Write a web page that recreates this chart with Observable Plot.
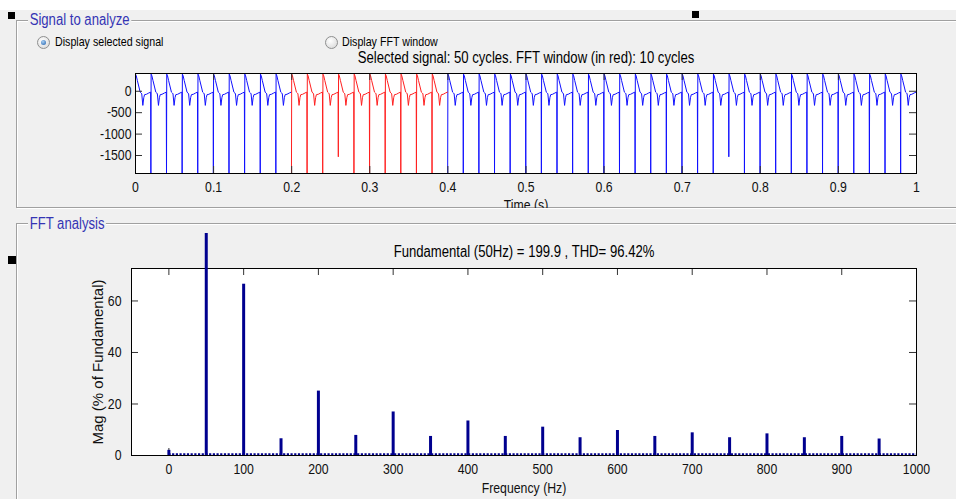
<!DOCTYPE html>
<html><head><meta charset="utf-8">
<script src="https://cdn.jsdelivr.net/npm/d3@7"></script>
<script src="https://cdn.jsdelivr.net/npm/@observablehq/plot@0.6"></script>
<style>
html,body{margin:0;padding:0}
body{width:956px;height:499px;overflow:hidden;position:relative;background:#f0f0f0;font-family:"Liberation Sans",Arial,sans-serif}
.whiteband{position:absolute;left:0;top:0;width:956px;height:10px;background:#fff}
.handle{position:absolute;width:7px;height:7px;background:#000}
.panel{position:absolute;border:1px solid #a0a0a0;box-shadow:inset 1px 1px 0 #fff,1px 1px 0 #fff}
.ptitle{position:absolute;background:#f0f0f0;color:#3434b4;font-size:16px;line-height:16px;padding:0 2px;white-space:nowrap;transform:scaleX(0.82);transform-origin:left center}
.radio{position:absolute;width:11px;height:11px;border-radius:50%;border:1px solid #8e8f8f;background:radial-gradient(circle at 40% 35%,#fff,#d4d4d4)}
.radio.on::after{content:"";position:absolute;left:3px;top:3px;width:5px;height:5px;border-radius:50%;background:radial-gradient(circle at 40% 35%,#a8d0f4,#1a5aa8)}
.rlabel{position:absolute;font-size:13px;line-height:14px;color:#000;white-space:nowrap;transform:scaleX(0.82);transform-origin:left center}
.chart{position:absolute;left:0}
</style></head><body>
<div class="whiteband"></div>
<div class="panel" style="left:16px;top:20px;width:1000px;height:186px"></div>
<div class="panel" style="left:16px;top:223px;width:1000px;height:400px"></div>
<div class="ptitle" id="t1" style="left:28px;top:12px"></div>
<div class="ptitle" id="t2" style="left:28px;top:216px"></div>
<div class="handle" style="left:8px;top:12px"></div>
<div class="handle" style="left:692px;top:11px"></div>
<div class="handle" style="left:8px;top:256px;width:8px;height:8px"></div>
<div class="radio on" style="left:37px;top:36px"></div>
<div class="rlabel" id="r1" style="left:55px;top:35px"></div>
<div class="radio" style="left:325px;top:36px"></div>
<div class="rlabel" id="r2" style="left:342px;top:35px"></div>
<div class="chart" id="top" style="top:44px"></div>
<div class="chart" id="bottom" style="top:233px"></div>
<script>
// ---------- texts ----------
const panelTitles = ["Signal to analyze", "FFT analysis"];
const radioLabels = ["Display selected signal", "Display FFT window"];
const signalSubtitle = "Selected signal: 50 cycles. FFT window (in red): 10 cycles";
const timeLabel = "Time (s)";
const fftTitle = "Fundamental (50Hz) = 199.9 , THD= 96.42%";
const freqLabel = "Frequency (Hz)";
const magLabel = "Mag (% of Fundamental)";

// ---------- top panel: selected signal ----------
const period = 0.02;            // one 50 Hz cycle (s)
const cycleCount = 50;
// one cycle: fraction of the cycle -> value
const cycleFrac  = [0, 0.05, 0.12, 0.22, 0.30, 0.36, 0.40, 0.47, 0.53, 0.58, 0.70, 0.85, 0.97];
const cycleShape = [400, 360, 250, 100, -20, -40, -60, -330, -150, -80, -70, -40, -20];
const spikeFrac = 0.985;
// depth of the commutation spike at the end of each cycle (last cycle: none)
const spikeDepth = [
  -1920, -1920, -1920, -1920, -1920, -1920, -1920, -1920, -1920, -1920,
  -1920, -1920, -1530, -1920, -1920, -1920, -1920, -1920, -1920, -1920,
  -1920, -1920, -1920, -1920, -1920, -1920, -1920, -1920, -1920, -1920,
  -1920, -1920, -1920, -1920, -1920, -1920, -1920, -1530, -1920, -1920,
  -1920, -1920, -1920, -1920, -1920, -1920, -1920, -1920, -1920, null
];
const fftWindowFirstCycle = 10;
const fftWindowCycles = 10;
const timeDomain = [0, 1];
const timeTicks = [0, 0.1, 0.2, 0.3, 0.4, 0.5, 0.6, 0.7, 0.8, 0.9, 1];
const signalDomain = [-1920, 415];
const signalTicks = [0, -500, -1000, -1500];

// ---------- bottom panel: FFT ----------
const harmonicHz  = [0, 50, 100, 150, 200, 250, 300, 350, 400, 450, 500, 550, 600, 650, 700, 750, 800, 850, 900, 950];
const harmonicMag = [2, 100, 66.5, 6.5, 25.0, 7.8, 16.9, 7.4, 13.4, 7.4, 11.0, 6.9, 9.7, 7.4, 8.8, 6.9, 8.4, 6.9, 7.4, 6.4];
const noiseFloorMag = 0.5;
const freqRange = [0, 1000];
const freqDomain = [-50, 1000];
const freqTicks = [0, 100, 200, 300, 400, 500, 600, 700, 800, 900, 1000];
const magDomain = [0, 72.6];
const magTicks = [0, 20, 40, 60];

// ---------- build ----------
document.getElementById("t1").textContent = panelTitles[0];
document.getElementById("t2").textContent = panelTitles[1];
document.getElementById("r1").textContent = radioLabels[0];
document.getElementById("r2").textContent = radioLabels[1];

const signal = [];
for (let k = 0; k < cycleCount; ++k) {
  cycleFrac.forEach((f, i) => signal.push({t: (k + f) * period, v: cycleShape[i], cycle: k}));
  if (spikeDepth[k] != null) signal.push({t: (k + spikeFrac) * period, v: spikeDepth[k], cycle: k + 1});
}
const wEnd = fftWindowFirstCycle + fftWindowCycles;
const preSignal = signal.filter(d => d.cycle < fftWindowFirstCycle);
const windowSignal = signal.filter(d => d.cycle >= fftWindowFirstCycle && d.cycle < wEnd);
const postSignal = signal.filter(d => d.cycle >= wEnd);

const harmonics = harmonicHz.map((hz, i) => ({hz, mag: harmonicMag[i]}));

const tickColor = "#333";
const sigBlue = "#1010ff", sigRed = "#ff2020";

function inwardTicks(xt, yt, fw, fh, len) {
  return [
    Plot.ruleX(xt, {insetTop: fh - len, stroke: tickColor}),
    Plot.ruleX(xt, {insetBottom: fh - len, stroke: tickColor}),
    Plot.ruleY(yt, {insetRight: fw - len, stroke: tickColor}),
    Plot.ruleY(yt, {insetLeft: fw - len, stroke: tickColor})
  ];
}
// narrow the (tall, condensed) screenshot lettering horizontally
function condense(svg) {
  svg.querySelectorAll("text").forEach(t => {
    const tr = t.getAttribute("transform") || "";
    if (tr.includes("rotate")) return;
    if (tr) t.setAttribute("transform", tr + " scale(0.82,1)");
    else {
      const x = +t.getAttribute("x") || 0;
      t.setAttribute("transform", `translate(${x},0) scale(0.82,1) translate(${-x},0)`);
    }
  });
}

// top chart
{
  const W = 956, H = 164, mt = 29, mb = 35, ml = 135, mr = 40;
  const fw = W - ml - mr, fh = H - mt - mb;
  const p = Plot.plot({
    width: W, height: H, marginTop: mt, marginBottom: mb, marginLeft: ml, marginRight: mr,
    style: {background: "transparent", overflow: "hidden", fontFamily: '"Liberation Sans",Arial,sans-serif', fontSize: "15px", color: "#000"},
    x: {domain: timeDomain, label: null},
    y: {domain: signalDomain, label: null},
    marks: [
      Plot.frame({fill: "white", stroke: null}),
      Plot.line(preSignal, {x: "t", y: "v", stroke: sigBlue, strokeWidth: 1, clip: true}),
      Plot.line(postSignal, {x: "t", y: "v", stroke: sigBlue, strokeWidth: 1, clip: true}),
      Plot.line(windowSignal, {x: "t", y: "v", stroke: sigRed, strokeWidth: 1, clip: true}),
      ...inwardTicks(timeTicks, signalTicks, fw, fh, 7),
      Plot.frame({stroke: "#000"}),
      Plot.axisX(timeTicks, {tickSize: 0, tickPadding: 8, tickFormat: d => String(d), fill: "#111"}),
      Plot.axisY(signalTicks, {tickSize: 0, tickPadding: 4, tickFormat: d => String(d), fill: "#111"}),
      Plot.text([signalSubtitle], {text: d => d, frameAnchor: "top", lineAnchor: "middle", dy: -16, fontSize: 16, fill: "#000"}),
      Plot.text([timeLabel], {text: d => d, frameAnchor: "bottom", lineAnchor: "middle", dy: 31.5, fontSize: 15, fill: "#111"})
    ]
  });
  condense(p);
  document.getElementById("top").append(p);
}

// bottom chart
{
  const W = 956, H = 266, mt = 35, mb = 44, ml = 131, mr = 40;
  const fw = W - ml - mr, fh = H - mt - mb;
  const p = Plot.plot({
    width: W, height: H, marginTop: mt, marginBottom: mb, marginLeft: ml, marginRight: mr,
    style: {background: "transparent", overflow: "hidden", fontFamily: '"Liberation Sans",Arial,sans-serif', fontSize: "15px", color: "#000"},
    x: {domain: freqDomain, label: null},
    y: {domain: magDomain, label: null},
    marks: [
      Plot.frame({fill: "white", stroke: null}),
      Plot.ruleY([noiseFloorMag], {y: d => d, x1: freqRange[0], x2: freqRange[1], stroke: "#00008f", strokeWidth: 2, strokeDasharray: "2.2,1.5"}),
      ...inwardTicks(freqTicks, magTicks, fw, fh, 7),
      Plot.frame({stroke: "#000"}),
      Plot.ruleX(harmonics, {x: "hz", y1: 0, y2: "mag", stroke: "#00008f", strokeWidth: 3}),
      Plot.axisX(freqTicks, {tickSize: 0, tickPadding: 8, tickFormat: d => String(d), fill: "#111"}),
      Plot.axisY(magTicks, {tickSize: 0, tickPadding: 10, tickFormat: d => String(d), fill: "#111"}),
      Plot.text([fftTitle], {text: d => d, frameAnchor: "top", lineAnchor: "middle", dy: -17, fontSize: 16, fill: "#000"}),
      Plot.text([freqLabel], {text: d => d, frameAnchor: "bottom", lineAnchor: "middle", dy: 33, fontSize: 15, fill: "#111"}),
      Plot.text([magLabel], {text: d => d, frameAnchor: "left", textAnchor: "middle", lineAnchor: "middle", dx: -33, rotate: -90, fontSize: 15, fill: "#111"})
    ]
  });
  condense(p);
  document.getElementById("bottom").append(p);
}
</script>
</body></html>
